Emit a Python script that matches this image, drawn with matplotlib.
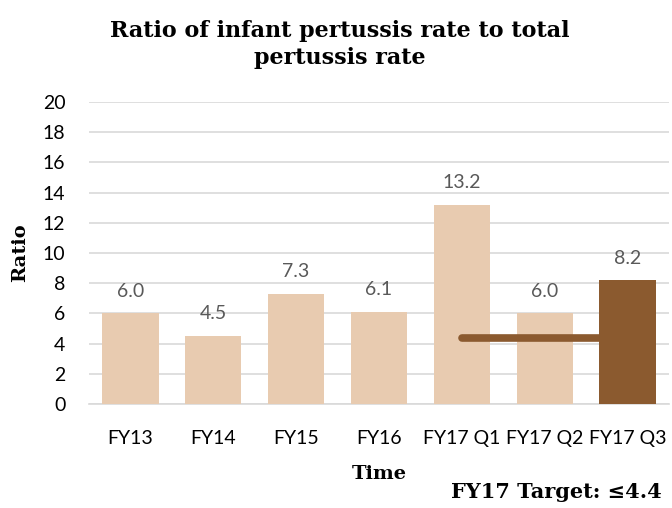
import numpy as np
import matplotlib.pyplot as plt

periods = ['FY13', 'FY14', 'FY15', 'FY16', 'FY17 Q1', 'FY17 Q2', 'FY17 Q3']
ratios = [6.0, 4.5, 7.3, 6.1, 13.2, 6.0, 8.2]
target = 4.4

light = '#E8CBB0'
dark = '#8B5A2F'
colors = [light] * 6 + [dark]

plt.rcParams['font.family'] = ['Lato', 'DejaVu Sans']

fig = plt.figure(figsize=(6.72, 5.08), dpi=100)
ax = fig.add_axes([0.1324, 0.2047, 0.8631, 0.5945])

x = np.arange(len(periods))
ax.bar(x, ratios, width=0.68, color=colors, zorder=3)
for xi, v in zip(x, ratios):
    ax.text(xi, v + 0.9, '%.1f' % v, ha='center', va='bottom', fontsize=14, color='#595959')

# target line from FY17 Q1 to the Q3 bar
ax.plot([4, 6 - 0.34], [target, target], color=dark, lw=5.5, solid_capstyle='round', zorder=4)

ax.set_xlim(-0.5, 6.5)
ax.set_ylim(0, 20)
ax.set_yticks(range(0, 21, 2))
ax.set_xticks(x)
ax.set_xticklabels(periods)
ax.tick_params(axis='both', length=0, labelsize=14, colors='#000000')
ax.tick_params(axis='y', pad=17)
ax.tick_params(axis='x', pad=19)
ax.grid(axis='y', color='#D9D9D9', lw=1.2, zorder=0)
for s in ['top', 'right', 'left']:
    ax.spines[s].set_visible(False)
ax.spines['bottom'].set_color('#D9D9D9')
ax.spines['bottom'].set_linewidth(1.2)

serif = ['DejaVu Serif']
ax.set_xlabel('Time', fontsize=14, fontweight='bold', family=serif, labelpad=13)
ax.set_ylabel('Ratio', fontsize=14, fontweight='bold', family=serif, labelpad=10)
fig.text(0.506, 0.913, 'Ratio of infant pertussis rate to total\npertussis rate', ha='center', va='center',
         fontsize=16, fontweight='bold', family=serif, linespacing=1.3)
fig.text(0.985, 0.032, 'FY17 Target: \u22644.4', ha='right', va='center', fontsize=15,
         fontweight='bold', family=serif)

plt.savefig('out.png', dpi=100)
